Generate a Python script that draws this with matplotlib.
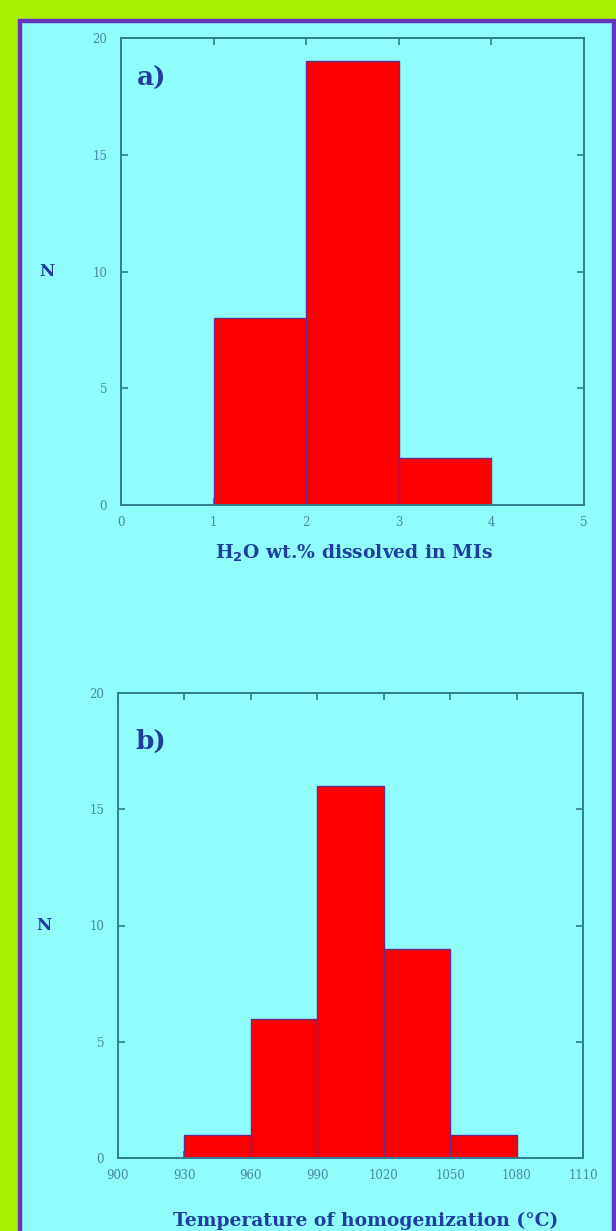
import matplotlib
matplotlib.use("Agg")
import matplotlib.pyplot as plt
from matplotlib.patches import Rectangle
import numpy as np

# ---- data ----
h2o_bin_edges = [1, 2, 3, 4]
h2o_counts = [8, 19, 2]
temp_bin_edges = [930, 960, 990, 1020, 1050, 1080]
temp_counts = [1, 6, 16, 9, 1]
h2o_xticks = [0, 1, 2, 3, 4, 5]
temp_xticks = [900, 930, 960, 990, 1020, 1050, 1080, 1110]
y_ticks = [0, 5, 10, 15, 20]

# ---- style ----
OUTER = "#a8f000"
BG = "#90fcfc"
PURPLE = "#6633bb"
SPINE = "#2f7f90"
TICKLBL = "#4a86a8"
LABEL = "#1f3ea0"
BAR = "#ff0000"
BAREDGE = "#6a2a8a"

plt.rcParams['font.family'] = ['DejaVu Serif']

fig = plt.figure(figsize=(6.16, 12.31), dpi=100, facecolor=OUTER)
fig.patches.append(Rectangle((20/616, -0.01), (614-20)/616, 1 - 21/1231 + 0.01,
                             transform=fig.transFigure, facecolor=BG,
                             edgecolor=PURPLE, linewidth=3.2, zorder=-5))

def make_panel(rect, edges, counts, xticks, xlim, tag, tagpos, xlabel, xlabel_pos):
    ax = fig.add_axes(rect, zorder=2)
    ax.set_facecolor(BG)
    lefts = np.array(edges[:-1], dtype=float)
    widths = np.diff(edges)
    ax.bar(lefts, counts, width=widths, align='edge', color=BAR,
           edgecolor=BAREDGE, linewidth=1.0, zorder=2)
    ax.set_xlim(*xlim)
    ax.set_ylim(0, 20)
    ax.set_xticks(xticks)
    ax.set_yticks(y_ticks)
    for s in ax.spines.values():
        s.set_color(SPINE)
        s.set_linewidth(1.4)
    ax.tick_params(direction='in', length=5, width=1.2, color=SPINE,
                   top=True, right=True, labelsize=8.5, labelcolor=TICKLBL)
    ax.tick_params(axis='y', pad=10)
    ax.tick_params(axis='x', pad=8)
    ax.text(tagpos[0], tagpos[1], tag, transform=ax.transAxes, fontsize=19,
            fontweight='bold', color=LABEL, ha='left', va='center')
    ax.text(-0.16, 0.5, "N", transform=ax.transAxes, fontsize=12,
            fontweight='bold', color=LABEL, ha='center', va='center')
    fig.text(xlabel_pos[0], xlabel_pos[1], xlabel, fontsize=xlabel_pos[2],
             fontweight='bold', color=LABEL, ha='center', va='center', zorder=5)
    return ax

make_panel([121/616, 1 - 505/1231, (584-121)/616, (505-38)/1231],
           h2o_bin_edges, h2o_counts, h2o_xticks, (0, 5), "a)", (0.035, 0.914),
           "H$_\\mathbf{2}$O wt.% dissolved in MIs", (354/616, 1 - 553/1231, 13.5))
make_panel([118/616, 1 - 1158/1231, (583-118)/616, (1158-693)/1231],
           temp_bin_edges, temp_counts, temp_xticks, (900, 1110), "b)", (0.037, 0.895),
           "Temperature of homogenization (°C)", (366/616, 1 - 1221/1231, 13.5))

fig.savefig("out.png", dpi=100, facecolor=OUTER)
